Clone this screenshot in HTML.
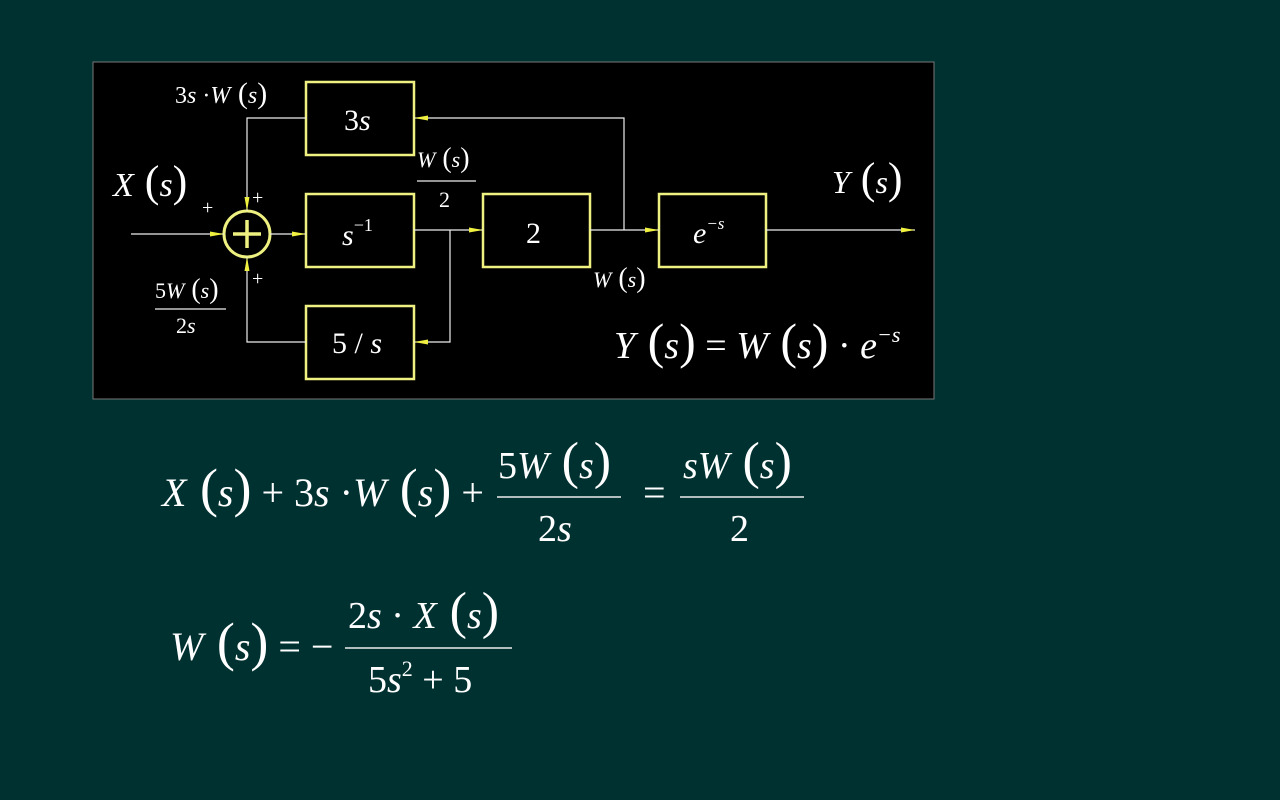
<!DOCTYPE html>
<html><head><meta charset="utf-8"><style>
html,body{margin:0;padding:0;background:#003131;width:1280px;height:800px;overflow:hidden}
svg{position:absolute;left:0;top:0}
text{font-family:"Liberation Serif",serif;fill:#fff}
.i{font-style:italic}
</style></head><body>
<svg width="1280" height="800" viewBox="0 0 1280 800">
<defs>
<marker id="a" markerWidth="14" markerHeight="8" refX="14" refY="4" orient="auto" markerUnits="userSpaceOnUse"><path d="M0,1.5 L14,4 L0,6.5 Z" fill="#f0f040"/></marker>
</defs>
<rect x="93" y="62" width="841" height="337" fill="#000" stroke="#777" stroke-width="1"/>
<g fill="none" stroke="#eef080" stroke-width="2.5">
<rect x="306" y="82" width="108" height="73"/>
<rect x="306" y="194" width="108" height="73"/>
<rect x="306" y="306" width="108" height="73"/>
<rect x="483" y="194" width="107" height="73"/>
<rect x="659" y="194" width="107" height="73"/>
<circle cx="247" cy="234" r="23" stroke-width="3"/>
<line x1="233" y1="234" x2="261" y2="234" stroke-width="3.5"/>
<line x1="247" y1="220" x2="247" y2="248" stroke-width="3.5"/>
</g>
<g stroke="#eee" stroke-width="1.2" fill="none">
<line x1="131" y1="234" x2="224" y2="234" marker-end="url(#a)"/>
<line x1="270" y1="234" x2="306" y2="234" marker-end="url(#a)"/>
<line x1="414" y1="230" x2="483" y2="230" marker-end="url(#a)"/>
<line x1="590" y1="230" x2="659" y2="230" marker-end="url(#a)"/>
<line x1="766" y1="230" x2="915" y2="230" marker-end="url(#a)"/>
<polyline points="624,230 624,118 414,118" marker-end="url(#a)"/>
<polyline points="450,230 450,342 414,342" marker-end="url(#a)"/>
<polyline points="306,118 247,118 247,211" marker-end="url(#a)"/>
<polyline points="306,342 247,342 247,257" marker-end="url(#a)"/>
<line x1="417" y1="181" x2="476" y2="181"/>
<line x1="155" y1="309" x2="226" y2="309"/>
<line x1="497" y1="497" x2="621" y2="497" stroke-width="1.5"/>
<line x1="680" y1="497" x2="804" y2="497" stroke-width="1.5"/>
<line x1="345" y1="648" x2="512" y2="648" stroke-width="1.5"/>
</g>
<text x="175" y="103" font-size="24">3<tspan class="i">s</tspan> ·<tspan class="i">W</tspan><tspan font-size="30"> (</tspan><tspan class="i">s</tspan><tspan font-size="30">)</tspan></text>
<text x="344" y="130" font-size="30">3<tspan class="i">s</tspan></text>
<text x="342" y="245" font-size="30" class="i">s<tspan font-style="normal" font-size="18" dy="-14">−1</tspan></text>
<text x="332" y="353" font-size="30">5 / <tspan class="i">s</tspan></text>
<text x="526" y="243" font-size="30">2</text>
<text x="693" y="243" font-size="30" class="i">e<tspan font-size="17" dy="-14">−s</tspan></text>
<text x="113" y="196" font-size="34"><tspan class="i">X</tspan><tspan font-size="44"> (</tspan><tspan class="i">s</tspan><tspan font-size="44">)</tspan></text>
<text x="202" y="214" font-size="20">+</text>
<text x="252" y="204" font-size="20">+</text>
<text x="252" y="285" font-size="20">+</text>
<text x="155" y="298" font-size="22">5<tspan class="i">W</tspan><tspan font-size="28"> (</tspan><tspan class="i">s</tspan><tspan font-size="28">)</tspan></text>
<text x="176" y="333" font-size="22">2<tspan class="i">s</tspan></text>
<text x="417" y="167" font-size="22"><tspan class="i">W</tspan><tspan font-size="28"> (</tspan><tspan class="i">s</tspan><tspan font-size="28">)</tspan></text>
<text x="439" y="207" font-size="22">2</text>
<text x="593" y="287" font-size="22"><tspan class="i">W</tspan><tspan font-size="28"> (</tspan><tspan class="i">s</tspan><tspan font-size="28">)</tspan></text>
<text x="832" y="193" font-size="32"><tspan class="i">Y</tspan><tspan font-size="44"> (</tspan><tspan class="i">s</tspan><tspan font-size="44">)</tspan></text>
<text x="614" y="358" font-size="38"><tspan class="i">Y</tspan><tspan font-size="50"> (</tspan><tspan class="i">s</tspan><tspan font-size="50">)</tspan> = <tspan class="i">W</tspan><tspan font-size="50"> (</tspan><tspan class="i">s</tspan><tspan font-size="50">)</tspan> · <tspan class="i">e</tspan><tspan class="i" font-size="22" dy="-16">−s</tspan></text>
<text x="162" y="506" font-size="40"><tspan class="i">X</tspan><tspan font-size="54"> (</tspan><tspan class="i">s</tspan><tspan font-size="54">)</tspan> + 3<tspan class="i">s</tspan> ·<tspan class="i">W</tspan><tspan font-size="54"> (</tspan><tspan class="i">s</tspan><tspan font-size="54">)</tspan> +</text>
<text x="498" y="478" font-size="38">5<tspan class="i">W</tspan><tspan font-size="52"> (</tspan><tspan class="i">s</tspan><tspan font-size="52">)</tspan></text>
<text x="538" y="541" font-size="38">2<tspan class="i">s</tspan></text>
<text x="643" y="506" font-size="40">=</text>
<text x="683" y="478" font-size="38"><tspan class="i">sW</tspan><tspan font-size="52"> (</tspan><tspan class="i">s</tspan><tspan font-size="52">)</tspan></text>
<text x="730" y="541" font-size="38">2</text>
<text x="170" y="660" font-size="40"><tspan class="i">W</tspan><tspan font-size="54"> (</tspan><tspan class="i">s</tspan><tspan font-size="54">)</tspan> = −</text>
<text x="348" y="628" font-size="38">2<tspan class="i">s</tspan> · <tspan class="i">X</tspan><tspan font-size="52"> (</tspan><tspan class="i">s</tspan><tspan font-size="52">)</tspan></text>
<text x="368" y="692" font-size="38">5<tspan class="i">s</tspan><tspan font-size="22" dy="-16">2</tspan><tspan dy="16"> + 5</tspan></text>
</svg>
</body></html>
